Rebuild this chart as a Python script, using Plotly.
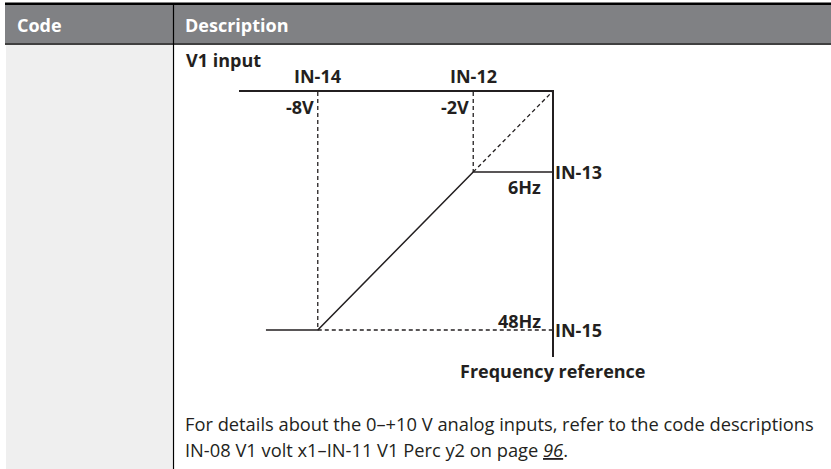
import plotly.graph_objects as go

# ---- content ---------------------------------------------------------------
header_labels = ["Code", "Description"]
title_text = "V1 input"
axis_title = "Frequency reference"

v_min = -10                      # V1 input lower limit (V)
volt_points = [-8, -2]           # IN-14, IN-12 settings (V)
volt_labels = ["-8V", "-2V"]
volt_params = ["IN-14", "IN-12"]

freq_points = [48, 6]            # IN-15, IN-13 settings (Hz)
freq_labels = ["48Hz", "6Hz"]
freq_params = ["IN-15", "IN-13"]

note_lines = [
    "For details about the 0\u2013+10 V analog inputs, refer to the code descriptions",
    "IN-08 V1 volt x1\u2013IN-11 V1 Perc y2 on page <i><u>96</u></i>.",
]

# ---- style -----------------------------------------------------------------
W, H = 831, 469
INK = "#231f20"
HEAD_BG = "#808184"
CODE_BG = "#efefef"
LABEL_FONT = dict(family="Open Sans", size=18, color=INK, weight="bold")
BODY_FONT = dict(family="Open Sans", size=18.3, color=INK)

X_RANGE = [-11.04, 1.04]         # volts across the diagram frame
Y_RANGE = [55.18, -15.27]        # Hz, increasing downward
X_RIGHT, Y_TOP = X_RANGE[1], Y_RANGE[1]

fig = go.Figure()

# transfer curve: flat at IN-15 below IN-14, linear to IN-13 at IN-12, then flat
curve_x = [v_min, volt_points[0], volt_points[1], X_RIGHT]
curve_y = [freq_points[0], freq_points[0], freq_points[1], freq_points[1]]
fig.add_trace(go.Scatter(x=curve_x, y=curve_y, mode="lines", xaxis="x2", yaxis="y2",
                         line=dict(color=INK, width=1.5), cliponaxis=False,
                         hoverinfo="skip"))

dash = dict(color=INK, width=1.3, dash="4px,3px")
# guides from each voltage breakpoint up to the top frame
for v, f in zip(volt_points, freq_points):
    fig.add_trace(go.Scatter(x=[v, v], y=[Y_TOP, f], mode="lines", xaxis="x2", yaxis="y2",
                             line=dash, cliponaxis=False, hoverinfo="skip"))
# IN-15 level extended to the frequency axis
fig.add_trace(go.Scatter(x=[volt_points[0], X_RIGHT], y=[freq_points[0], freq_points[0]],
                         mode="lines", xaxis="x2", yaxis="y2", line=dash,
                         cliponaxis=False, hoverinfo="skip"))
# default (unscaled) characteristic back to the origin
fig.add_trace(go.Scatter(x=[volt_points[1], X_RIGHT], y=[freq_points[1], Y_TOP],
                         mode="lines", xaxis="x2", yaxis="y2", line=dash,
                         cliponaxis=False, hoverinfo="skip"))

# ---- table frame -----------------------------------------------------------
shapes = [
    dict(type="rect", x0=5, x1=W, y0=5, y1=43, fillcolor=HEAD_BG, line_width=0),
    dict(type="rect", x0=5, x1=W, y0=2.5, y1=5, fillcolor="black", line_width=0),
    dict(type="rect", x0=6, x1=172.5, y0=45, y1=H, fillcolor=CODE_BG, line_width=0),
    dict(type="line", x0=5, x1=W, y0=44, y1=44, line=dict(color="black", width=1.5)),
    dict(type="line", x0=173.5, x1=173.5, y0=5, y1=H, line=dict(color="black", width=1.2)),
]
for s in shapes:
    s.update(xref="x", yref="y", layer="below")

ann = []
for txt, x in zip(header_labels, [15, 183]):
    ann.append(dict(text=txt, x=x, y=25, xref="x", yref="y", xanchor="left", yanchor="middle",
                    showarrow=False,
                    font=dict(family="Open Sans", size=18, color="white", weight="bold")))
ann.append(dict(text=title_text, x=184, y=60, xref="x", yref="y", xanchor="left",
                yanchor="middle", showarrow=False, font=LABEL_FONT))

for v, vl, vp in zip(volt_points, volt_labels, volt_params):
    ann.append(dict(text=vp, x=v, y=1, xref="x2", yref="y2 domain", xanchor="center",
                    yanchor="middle", yshift=16, showarrow=False, font=LABEL_FONT))
    ann.append(dict(text=vl, x=v, y=1, xref="x2", yref="y2 domain", xanchor="right",
                    yanchor="middle", xshift=-2, yshift=-15, showarrow=False, font=LABEL_FONT))

label_shift = {"48Hz": 8.5, "6Hz": -14.5}
for f, fl, fp in zip(freq_points, freq_labels, freq_params):
    ann.append(dict(text=fp, x=1, y=f, xref="x2 domain", yref="y2", xanchor="left",
                    yanchor="middle", xshift=1, showarrow=False, font=LABEL_FONT))
    ann.append(dict(text=fl, x=1, y=f, xref="x2 domain", yref="y2", xanchor="right",
                    yanchor="middle", xshift=-9, yshift=label_shift[fl], showarrow=False,
                    font=LABEL_FONT))

ann.append(dict(text=axis_title, x=1, y=0, xref="x2 domain", yref="y2 domain",
                xanchor="center", yanchor="middle", yshift=-14, showarrow=False,
                font=LABEL_FONT))

for line, y in zip(note_lines, [423.5, 449]):
    ann.append(dict(text=line, x=183, y=y, xref="x", yref="y", xanchor="left",
                    yanchor="middle", showarrow=False, font=BODY_FONT))

fig.update_layout(
    width=W, height=H, margin=dict(l=0, r=0, t=0, b=0),
    paper_bgcolor="white", plot_bgcolor="rgba(0,0,0,0)", showlegend=False,
    xaxis=dict(range=[0, W], visible=False, domain=[0, 1]),
    yaxis=dict(range=[H, 0], visible=False, domain=[0, 1]),
    xaxis2=dict(range=X_RANGE, domain=[239 / W, 552 / W], anchor="y2", side="top",
                showline=True, linecolor=INK, linewidth=1.6, showgrid=False,
                zeroline=False, showticklabels=False, ticks=""),
    yaxis2=dict(range=Y_RANGE, domain=[1 - 357 / H, 1 - 92 / H], anchor="x2", side="right",
                showline=True, linecolor=INK, linewidth=1.6, showgrid=False,
                zeroline=False, showticklabels=False, ticks=""),
    shapes=shapes, annotations=ann,
)

fig.write_html("out.html")
